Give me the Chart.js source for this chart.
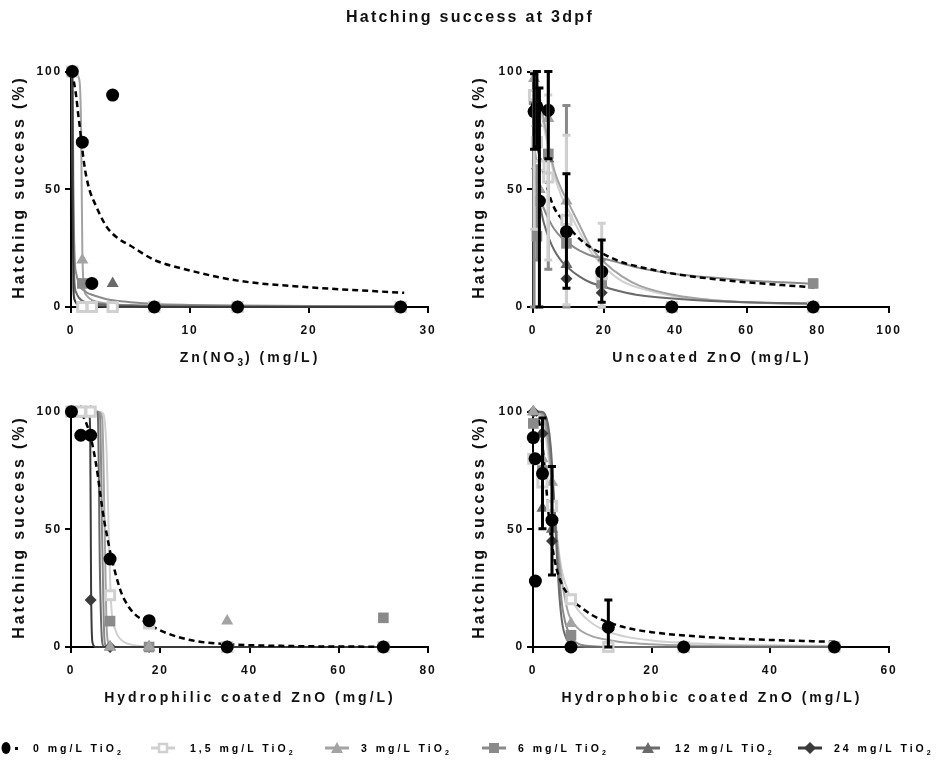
<!DOCTYPE html>
<html><head><meta charset="utf-8">
<script src="https://cdn.jsdelivr.net/npm/chart.js@4.4.1/dist/chart.umd.min.js"></script>
<style>
html,body{margin:0;padding:0;background:#fff;}
#wrap{position:relative;width:941px;height:760px;overflow:hidden;font-family:"Liberation Sans",Arial,sans-serif;color:#111;}
canvas{position:absolute;left:0;top:0;}
.t{position:absolute;white-space:nowrap;font-weight:bold;transform:translate(-50%,-50%);line-height:1;}
.yt{position:absolute;white-space:nowrap;font-weight:bold;transform:translate(-50%,-50%) rotate(-90deg);font-size:16px;letter-spacing:2.9px;line-height:1;}
.xt{font-size:14px;letter-spacing:3px;}
.sb{font-size:10px;position:relative;top:4px;letter-spacing:2px;}
.lg{position:absolute;white-space:nowrap;font-weight:bold;font-size:10.5px;letter-spacing:3px;top:748px;transform:translateY(-50%);line-height:1;color:#000;}
.lg .s2{font-size:7px;position:relative;top:3px;}
svg.mk{position:absolute;top:740px;}
</style></head>
<body><div id="wrap">
<canvas id="c1" width="941" height="760"></canvas>
<canvas id="c2" width="941" height="760"></canvas>
<canvas id="c3" width="941" height="760"></canvas>
<canvas id="c4" width="941" height="760"></canvas>

<div class="t" style="left:470px;top:17px;font-size:16px;letter-spacing:2.3px;">Hatching success at 3dpf</div>

<div class="yt" style="left:19px;top:187px;">Hatching success (%)</div>
<div class="yt" style="left:479px;top:187px;">Hatching success (%)</div>
<div class="yt" style="left:19px;top:527px;">Hatching success (%)</div>
<div class="yt" style="left:479px;top:527px;">Hatching success (%)</div>

<div class="t xt" style="left:250px;top:357px;">Zn(NO<span class="sb">3</span>) (mg/L)</div>
<div class="t xt" style="left:712px;top:357px;">Uncoated ZnO (mg/L)</div>
<div class="t xt" style="left:250px;top:697px;">Hydrophilic coated ZnO (mg/L)</div>
<div class="t xt" style="left:712px;top:697px;">Hydrophobic coated ZnO (mg/L)</div>

<!-- legend -->
<svg class="mk" style="left:0px" width="24" height="16"><ellipse cx="6" cy="8" rx="4.5" ry="6" fill="#000"/><rect x="15" y="7" width="3" height="3" fill="#000"/></svg>
<div class="lg" style="left:33px">0 mg/L TiO<span class="s2">2</span></div>
<svg class="mk" style="left:151px" width="24" height="16"><line x1="0" y1="8" x2="24" y2="8" stroke="#d0d0d0" stroke-width="3"/><rect x="8" y="4" width="8" height="8" fill="#fff" stroke="#d0d0d0" stroke-width="2.5"/></svg>
<div class="lg" style="left:190px">1,5 mg/L TiO<span class="s2">2</span></div>
<svg class="mk" style="left:325px" width="24" height="16"><line x1="0" y1="8" x2="24" y2="8" stroke="#a3a3a3" stroke-width="3"/><polygon points="12,2 18,13 6,13" fill="#a3a3a3"/></svg>
<div class="lg" style="left:361px">3 mg/L TiO<span class="s2">2</span></div>
<svg class="mk" style="left:482px" width="24" height="16"><line x1="0" y1="8" x2="24" y2="8" stroke="#8a8a8a" stroke-width="3"/><rect x="7" y="3" width="10" height="10" fill="#8a8a8a"/></svg>
<div class="lg" style="left:518px">6 mg/L TiO<span class="s2">2</span></div>
<svg class="mk" style="left:636px" width="24" height="16"><line x1="0" y1="8" x2="24" y2="8" stroke="#6a6a6a" stroke-width="3"/><polygon points="12,2 18,13 6,13" fill="#6a6a6a"/></svg>
<div class="lg" style="left:675px">12 mg/L TiO<span class="s2">2</span></div>
<svg class="mk" style="left:798px" width="24" height="16"><line x1="0" y1="8" x2="24" y2="8" stroke="#3a3a3a" stroke-width="3"/><polygon points="12,2 18,8 12,14 6,8" fill="#3a3a3a"/></svg>
<div class="lg" style="left:834px">24 mg/L TiO<span class="s2">2</span></div>
</div>

<script>
// ---------- DATA ----------
const seriesNames = ['0 mg/L TiO2', '1,5 mg/L TiO2', '3 mg/L TiO2', '6 mg/L TiO2', '12 mg/L TiO2', '24 mg/L TiO2'];
const yTicks = [0, 50, 100];

// Panel 1: Zn(NO3)
const znConc = [0.11, 0.95, 1.75, 3.5, 7, 14, 27.7];
const zn0  = [100, 70, 10, 90, 0, 0, 0];
const zn15 = [100, 0, 0, 0, 0, 0, 0];
const zn3  = [100, 20, 10, 0, 0, 0, 0];
const zn6  = [100, 10, 0, 0, 0, 0, 0];
const zn12 = [100, null, 0, 10, 0, 0, 0];
const zn24 = [100, 0, null, null, 0, 0, 0];
const znFitX  = [0.1, 0.15, 0.2, 0.3, 0.45, 0.6, 0.75, 0.85, 0.95, 1.1, 1.3, 1.6, 2, 3, 4, 5, 7, 10, 14, 20, 28];
const znFit0  = [100, 99, 97, 94, 89, 82, 76, 71, 67, 61, 55, 49, 44, 34, 29, 26, 20, 15.5, 11.2, 8.4, 6];
const znFit15 = [100, 60, 15, 4, 2, 1.5, 1.2, 1, 0.9, 0.8, 0.7, 0.6, 0.5, 0.3, 0.2, 0.2, 0.1, 0.1, 0, 0, 0];
const znFit3  = [100, 100, 100, 100, 99.5, 98, 94, 75, 25, 8, 5, 3.5, 2.5, 1.5, 1, 0.8, 0.5, 0.3, 0.2, 0.1, 0];
const znFit6  = [100, 90, 50, 22, 14, 11, 9, 8, 7.5, 7, 6.2, 5.5, 4.8, 3.3, 2.5, 2, 1.3, 0.9, 0.6, 0.4, 0.3];
const znFit12 = [100, 70, 30, 10, 6, 4.5, 3.5, 3, 2.7, 2.3, 2, 1.7, 1.4, 1, 0.7, 0.6, 0.4, 0.3, 0.2, 0.1, 0.1];
const znFit24 = [100, 40, 8, 3, 1.5, 1, 0.8, 0.7, 0.6, 0.5, 0.4, 0.3, 0.3, 0.2, 0.1, 0.1, 0, 0, 0, 0, 0];

// Panel 2: Uncoated ZnO
const ucConc = [0.3, 1.1, 1.8, 4.3, 9.4, 19.3, 39, 78.7];
const uc0    = [83, 85, 45, 83.5, 32, 15, 0, 0];
const uc0Lo  = [67, 68, 0, 63, 8, 2, null, null];
const uc0Hi  = [99, 100, 93, 100, 56.6, 28.4, null, null];
const uc15   = [90, 70, 60, 55, 37, 14, 0, 0];
const uc15Lo = [33, null, null, 20, 1, 0, null, null];
const uc15Hi = [100, null, null, 90, 72.9, 35.6, null, null];
const uc3    = [97, 78, 50, 80, 45, 15, 0, 0];
const uc6    = [88, 30, 60, 65, 27, 10, 0, 10];
const uc6Lo  = [0, 20, null, 16, 0, 0, null, null];
const uc6Hi  = [100, 60, null, 100, 85.6, 20, null, null];
const uc12   = [90, 60, 50, 63, 18, 10, 0, 0];
const uc24   = [null, null, 45, null, 12, 6, 0, 0];
const ucFitX  = [0.3, 1, 2, 3, 4.5, 6, 8, 10, 13, 16, 20, 25, 30, 40, 50, 60, 70, 79];
const ucFit0  = [80, 72, 63, 57, 48, 42, 37.5, 34, 29, 25.5, 22.3, 19, 17, 14, 12, 10.5, 9.3, 8.3];
const ucFit15 = [96, 92, 85, 77, 66, 56, 47, 41, 32, 24, 17, 11, 8, 4.5, 3, 2, 1.5, 1];
const ucFit3  = [98, 95, 88, 80, 68, 58, 50, 44, 35, 26, 19, 13, 9, 5, 3, 2, 1.5, 1.2];
const ucFit6  = [70, 60, 47, 42, 37, 33, 29.5, 27, 24, 22, 20.5, 18.5, 16.5, 14, 12.5, 11.3, 10.5, 9.8];
const ucFit12 = [60, 52, 43, 36, 29, 24, 19.5, 16.5, 13, 10.5, 8.5, 6.5, 5, 3.5, 2.5, 2, 1.7, 1.5];

// Panel 3: Hydrophilic coated ZnO
const hpConc = [0.1, 2.2, 4.4, 8.75, 17.5, 35, 70];
const hp0  = [100, 90, 90, 37.4, 11.2, 0, 0];
const hp15 = [100, 100, 100, 22, 10, 0, 0];
const hp3  = [100, 100, 100, 0, 0, 11, 0];
const hp6  = [100, 100, 100, 11, 0, 0, 12.4];
const hp12 = [100, 100, 100, 0, 0, 0, 0];
const hp24 = [100, 100, 20, 0, 0, 0, 0];
const hpFitX  = [0.1, 2, 3, 4, 4.3, 4.5, 4.8, 5.5, 6, 6.5, 7, 7.5, 8, 8.5, 9, 10, 11, 12, 14, 16, 18, 22, 28, 35, 50, 70];
const hpFit0  = [100, 99.5, 97, 92, 90, 88.5, 86, 79, 73, 66, 59, 53, 48, 43, 38.5, 31, 24.5, 20, 14.5, 11.5, 9, 5.5, 2.5, 1.2, 0.4, 0.1];
const hpFit15 = [100, 100, 100, 100, 100, 100, 100, 100, 100, 100, 99.5, 97, 82, 45, 18, 7, 3.5, 2, 0.8, 0.3, 0.1, 0, 0, 0, 0, 0];
const hpFit3  = [100, 100, 100, 100, 100, 100, 100, 100, 100, 99.5, 97, 55, 8, 1, 0, 0, 0, 0, 0, 0, 0, 0, 0, 0, 0, 0];
const hpFit6  = [100, 100, 100, 100, 100, 100, 100, 100, 100, 98, 45, 3, 0, 0, 0, 0, 0, 0, 0, 0, 0, 0, 0, 0, 0, 0];
const hpFit12 = [100, 100, 100, 100, 100, 100, 100, 100, 99, 30, 2, 0, 0, 0, 0, 0, 0, 0, 0, 0, 0, 0, 0, 0, 0, 0];
const hpFit24 = [100, 100, 100, 100, 92, 25, 2, 0, 0, 0, 0, 0, 0, 0, 0, 0, 0, 0, 0, 0, 0, 0, 0, 0, 0, 0];

// Panel 4: Hydrophobic coated ZnO
const hbConc = [0.05, 0.35, 0.4, 1.6, 3.2, 6.4, 12.7, 25.4, 50.8];
const hb0   = [89, 80, 28, 73.7, 53.9, 0, 8.4, 0, 0];
const hb0Lo = [null, null, null, 50.3, 30.6, null, 0, null, null];
const hb0Hi = [null, null, null, 97.3, 76.7, null, 20, null, null];
const hb15  = [80, null, null, 70, 60, 20.3, 0, 0, 0];
const hb3   = [100, null, null, 80, 70, 10, 0, 0, 0];
const hb6   = [95, null, null, 75, 60, 5, 0, 0, 0];
const hb12  = [100, null, null, 59, 50, 0, 0, 0, 0];
const hb24  = [100, null, null, 90.7, 45, 0, 0, 0, 0];
const hbFitX  = [0.05, 1, 1.5, 2, 2.5, 3, 3.5, 4, 4.5, 5, 6, 7, 8, 10, 12.7, 16, 20, 25, 32, 40, 50.8];
const hbFit0  = [100, 96, 88, 75, 60, 47, 39, 33, 29, 26, 22, 19, 17, 13.5, 10.5, 8, 6.3, 5, 3.8, 3, 2.2];
const hbFit15 = [100, 99, 97, 92, 83, 72, 60, 48, 38, 31, 23, 18, 14.5, 10, 6.5, 4.2, 2.8, 1.8, 1.1, 0.7, 0.4];
const hbFit3  = [100, 99.5, 98.5, 95, 88, 76, 62, 47, 35, 26, 14, 9.5, 7, 4.5, 3, 1.8, 1.2, 0.7, 0.4, 0.3, 0.2];
const hbFit6  = [100, 100, 99.5, 98, 92, 80, 63, 45, 28, 16, 6, 2.5, 1, 0.3, 0, 0, 0, 0, 0, 0, 0];
const hbFit12 = [100, 100, 100, 99, 95, 85, 65, 40, 20, 9, 2, 0.5, 0.1, 0, 0, 0, 0, 0, 0, 0, 0];

// ---------- STYLES ----------
const STY = [
  {color:'#000000', ps:'circle',   r:6.5, fill:'#000000', bw:0, lw:2.5, dash:[6,4]},
  {color:'#d0d0d0', ps:'rect',     r:6.5, fill:'#ffffff', bw:3, lw:2,   dash:[]},
  {color:'#a3a3a3', ps:'triangle', r:7,   fill:'#a3a3a3', bw:0, lw:2,   dash:[]},
  {color:'#8a8a8a', ps:'rect',     r:7.5, fill:'#8a8a8a', bw:0, lw:2,   dash:[]},
  {color:'#6a6a6a', ps:'triangle', r:7,   fill:'#6a6a6a', bw:0, lw:2,   dash:[]},
  {color:'#3a3a3a', ps:'rectRot',  r:6,   fill:'#3a3a3a', bw:0, lw:2,   dash:[]}
];
const FONT = '"Liberation Sans", Arial, sans-serif';
Chart.defaults.font.family = FONT;

function pts(conc, vals, lo, hi) {
  const out = [];
  conc.forEach((x, i) => {
    if (vals && vals[i] != null) out.push({x: x, y: vals[i], lo: lo ? lo[i] : null, hi: hi ? hi[i] : null});
  });
  return out;
}
function curve(xs, ys) { return xs.map((x, i) => ({x: x, y: ys[i]})); }

const errorBars = {
  id: 'errorBars',
  afterDatasetsDraw(chart) {
    const ctx = chart.ctx, xs = chart.scales.x, ys = chart.scales.y;
    const dss = chart.data.datasets;
    for (let di = dss.length - 1; di >= 0; di--) {
      const ds = dss[di];
      if (!ds.errBars) continue;
      ds.data.forEach(d => {
        if (d.lo == null || d.hi == null) return;
        const x = xs.getPixelForValue(d.x);
        const yl = ys.getPixelForValue(d.lo), yh = ys.getPixelForValue(d.hi);
        ctx.save();
        ctx.strokeStyle = ds.errColor;
        ctx.lineWidth = 3;
        ctx.beginPath();
        ctx.moveTo(x, yl); ctx.lineTo(x, yh);
        ctx.moveTo(x - 4, yl); ctx.lineTo(x + 4, yl);
        ctx.moveTo(x - 4, yh); ctx.lineTo(x + 4, yh);
        ctx.stroke();
        ctx.restore();
      });
    }
  }
};
const spacing = { id: 'spacing', beforeDraw(chart) { try { chart.ctx.letterSpacing = '1.8px'; } catch (e) {} } };

const YW = 60, XH = 45;
function makePanel(id, area, xMax, xStep, conc, vals, los, his, fitX, fits) {
  const datasets = [];
  vals.forEach((v, s) => {
    if (!v) return;
    const st = STY[s];
    datasets.push({
      label: seriesNames[s],
      data: pts(conc, v, los[s], his[s]),
      showLine: false,
      pointStyle: st.ps, pointRadius: st.r,
      pointBackgroundColor: st.fill, pointBorderColor: st.color, pointBorderWidth: st.bw,
      borderColor: st.color, backgroundColor: st.fill,
      errBars: !!los[s], errColor: st.color,
      order: s, clip: false
    });
  });
  fits.forEach((f, s) => {
    if (!f) return;
    const st = STY[s];
    datasets.push({
      label: seriesNames[s] + ' fit',
      data: curve(fitX, f),
      showLine: true, pointRadius: 0, borderColor: st.color, borderWidth: st.lw,
      borderDash: st.dash, cubicInterpolationMode: 'monotone', fill: false,
      order: s === 0 ? 10 : 20 - s, clip: false
    });
  });
  const tickFont = {family: FONT, size: 12, weight: 'bold'};
  return new Chart(document.getElementById(id), {
    type: 'scatter',
    data: {datasets: datasets},
    options: {
      responsive: false, animation: false, devicePixelRatio: 1, events: [],
      layout: {padding: {left: area[0] - YW, right: 941 - area[2], top: area[1], bottom: 760 - area[3] - XH}},
      plugins: {legend: {display: false}, tooltip: {enabled: false}, title: {display: false}},
      scales: {
        x: {type: 'linear', min: 0, max: xMax,
            ticks: {stepSize: xStep, color: '#111', font: tickFont, padding: 10, maxRotation: 0},
            grid: {display: true, drawOnChartArea: false, drawTicks: true, tickLength: 6, tickColor: '#000', tickWidth: 2, color: '#000', lineWidth: 2},
            border: {display: true, color: '#000', width: 2},
            afterFit(sc) { sc.height = XH; }},
        y: {type: 'linear', min: 0, max: 100,
            afterBuildTicks(sc) { sc.ticks = yTicks.map(v => ({value: v})); },
            ticks: {color: '#111', font: tickFont, padding: 3},
            grid: {display: true, drawOnChartArea: false, drawTicks: true, tickLength: 6, tickColor: '#000', tickWidth: 2, color: '#000', lineWidth: 2},
            border: {display: true, color: '#000', width: 2},
            afterFit(sc) { sc.width = YW; }}
      }
    },
    plugins: [spacing, errorBars]
  });
}

makePanel('c1', [71, 71.5, 428, 307], 30, 10, znConc,
  [zn0, zn15, zn3, zn6, zn12, zn24], [null, null, null, null, null, null], [null, null, null, null, null, null],
  znFitX, [znFit0, znFit15, znFit3, znFit6, znFit12, znFit24]);
makePanel('c2', [533, 71.5, 889, 307], 100, 20, ucConc,
  [uc0, uc15, uc3, uc6, uc12, uc24], [uc0Lo, uc15Lo, null, uc6Lo, null, null], [uc0Hi, uc15Hi, null, uc6Hi, null, null],
  ucFitX, [ucFit0, ucFit15, ucFit3, ucFit6, ucFit12, null]);
makePanel('c3', [71, 411.7, 428, 647], 80, 20, hpConc,
  [hp0, hp15, hp3, hp6, hp12, hp24], [null, null, null, null, null, null], [null, null, null, null, null, null],
  hpFitX, [hpFit0, hpFit15, hpFit3, hpFit6, hpFit12, hpFit24]);
makePanel('c4', [533, 411.7, 889, 647], 60, 20, hbConc,
  [hb0, hb15, hb3, hb6, hb12, hb24], [hb0Lo, null, null, null, null, null], [hb0Hi, null, null, null, null, null],
  hbFitX, [hbFit0, hbFit15, hbFit3, hbFit6, hbFit12, null]);
</script>
</body></html>
